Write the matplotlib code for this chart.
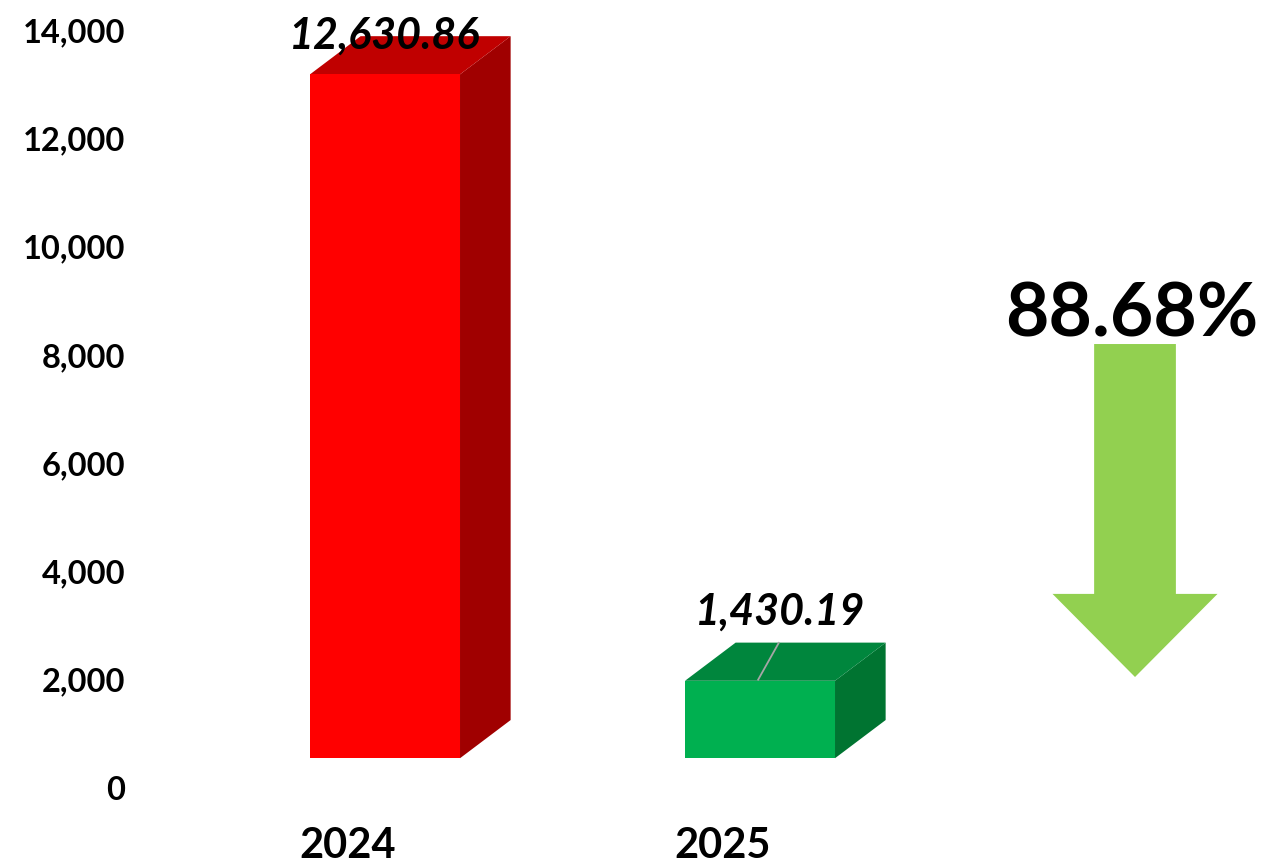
import matplotlib.pyplot as plt
from matplotlib.patches import Polygon

years = ["2024", "2025"]
values = [12630.86, 1430.19]
value_labels = ["12,630.86", "1,430.19"]
change_label = "88.68%"

front_colors = ["#FF0000", "#00B050"]
top_colors = ["#C00000", "#00863D"]
side_colors = ["#A00000", "#007431"]

plt.rcParams['font.family'] = ['Lato', 'DejaVu Sans']

fig = plt.figure(figsize=(12.63, 8.65), dpi=100)
ax = fig.add_axes([135 / 1263, 77 / 865, 1128 / 1263, 758 / 865])

bar_w = 0.4
depth_x = 0.135
depth_y = 705
floor = 550

for i, v in enumerate(values):
    x0 = i - bar_w / 2
    x1 = i + bar_w / 2
    top = floor + v
    # side face
    ax.add_patch(Polygon([(x1, floor), (x1 + depth_x, floor + depth_y),
                          (x1 + depth_x, top + depth_y), (x1, top)],
                         closed=True, facecolor=side_colors[i], edgecolor="none"))
    # top face
    ax.add_patch(Polygon([(x0, top), (x0 + depth_x, top + depth_y),
                          (x1 + depth_x, top + depth_y), (x1, top)],
                         closed=True, facecolor=top_colors[i], edgecolor="none"))
    # front face
    ax.add_patch(Polygon([(x0, floor), (x1, floor), (x1, top), (x0, top)],
                         closed=True, facecolor=front_colors[i], edgecolor="none"))
    ax.text(i - 0.1, -1300, years[i], ha="center", va="baseline",
            fontsize=30, fontweight="bold")

# value labels
top0 = floor + values[0]
ax.text(0, top0 + 480, value_labels[0], ha="center", va="baseline",
        fontsize=31, fontweight="bold", fontstyle="italic")
top1 = floor + values[1]
ax.text(1.053, top1 + 1030, value_labels[1], ha="center", va="baseline",
        fontsize=31, fontweight="bold", fontstyle="italic")
ax.plot([1.05, 0.995], [top1 + 700, top1 + 20], color="#A6A6A6", lw=1.3)

# change arrow
ax_x = 2.0
shaft_w = 0.109
head_w = 0.22
y_top, y_neck, y_tip = 8200, 3585, 2050
ax.add_patch(Polygon([(ax_x - shaft_w, y_top), (ax_x + shaft_w, y_top),
                      (ax_x + shaft_w, y_neck), (ax_x + head_w, y_neck),
                      (ax_x, y_tip), (ax_x - head_w, y_neck),
                      (ax_x - shaft_w, y_neck)],
                     closed=True, facecolor="#92D050", edgecolor="none"))
ax.text(ax_x - 0.01, 8330, change_label, ha="center", va="baseline",
        fontsize=54, fontweight="bold")

ax.set_xlim(-0.6667, 2.3413)
ax.set_ylim(0, 14000)
ax.set_yticks(range(0, 14001, 2000))
ax.set_yticklabels([f"{t:,}" for t in range(0, 14001, 2000)],
                   fontsize=23.5, fontweight="bold")
ax.tick_params(axis="y", length=0, pad=7)
ax.set_xticks([])
for s in ax.spines.values():
    s.set_visible(False)

fig.savefig("out.png", dpi=100)
